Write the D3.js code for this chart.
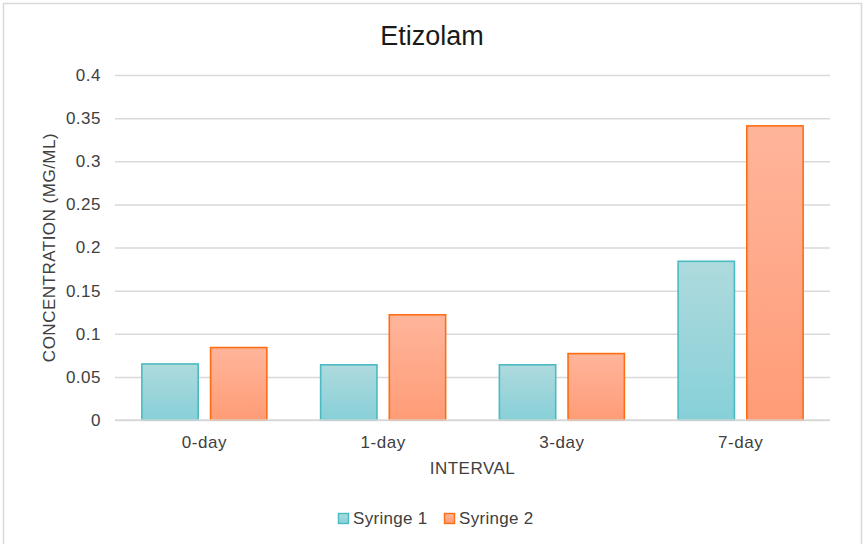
<!DOCTYPE html>
<html>
<head>
<meta charset="utf-8">
<script src="https://cdn.jsdelivr.net/npm/d3@7"></script>
<style>
  body { margin: 0; background: #fff; }
  svg { display: block; font-family: "Liberation Sans", Arial, sans-serif; }
</style>
</head>
<body>
<svg id="chart" width="866" height="544"></svg>
<script>
// Etizolam concentration per storage interval, two syringes
const categories = ["0-day", "1-day", "3-day", "7-day"];
const seriesNames = ["Syringe 1", "Syringe 2"];
const syringe1 = [0.065, 0.064, 0.064, 0.184];
const syringe2 = [0.084, 0.122, 0.077, 0.341];
const yTicks = [0, 0.05, 0.1, 0.15, 0.2, 0.25, 0.3, 0.35, 0.4];

const svg = d3.select("#chart");
const W = 866, H = 544;
const m = { left: 115, right: 36, top: 75, bottom: 124 };
const x0 = m.left, x1 = W - m.right, yTop = m.top, yBot = H - m.bottom;
const FONT = "Liberation Sans, Arial, sans-serif";
const TXT = "#404040";

const styles = [
  { grad: "g1", top: "#aedadd", bottom: "#87d0d8", stroke: "#4bbac3" },
  { grad: "g2", top: "#ffb59b", bottom: "#ff9c77", stroke: "#ff6d12" }
];

const defs = svg.append("defs");
styles.forEach(s => {
  const g = defs.append("linearGradient").attr("id", s.grad)
    .attr("x1", 0).attr("y1", 0).attr("x2", 0).attr("y2", 1);
  g.append("stop").attr("offset", "0%").attr("stop-color", s.top);
  g.append("stop").attr("offset", "100%").attr("stop-color", s.bottom);
});

// outer frame
svg.append("rect").attr("x", 3.5).attr("y", 3.5).attr("width", 858).attr("height", 560)
  .attr("fill", "#fff").attr("stroke", "#d9d9d9").attr("stroke-width", 1.5);

const y = d3.scaleLinear().domain([0, 0.4]).range([yBot, yTop]);
const x = d3.scaleBand().domain(categories).range([x0, x1]).paddingInner(0).paddingOuter(0);
const groupFrac = 125 / x.bandwidth();
const xs = d3.scaleBand().domain(seriesNames)
  .range([0, x.bandwidth() * groupFrac]).paddingInner(0.18).paddingOuter(0);

// gridlines + y labels via axis
const yAxis = d3.axisLeft(y).tickValues(yTicks).tickSize(-(x1 - x0)).tickPadding(14)
  .tickFormat(d => d === 0 ? "0" : String(+d.toFixed(2)));
const ya = svg.append("g").attr("transform", `translate(${x0},0)`).call(yAxis);
ya.select(".domain").remove();
ya.selectAll(".tick line").attr("stroke", "#d9d9d9").attr("stroke-width", 1.5);
ya.selectAll(".tick text").attr("fill", TXT).style("font-size", "17px")
  .style("font-family", FONT).style("letter-spacing", "0.5px");

// bars
const data = [syringe1, syringe2];
data.forEach((vals, si) => {
  const s = styles[si];
  svg.append("g").selectAll("rect").data(vals).join("rect")
    .attr("x", (d, i) => x(categories[i]) + (x.bandwidth() * (1 - groupFrac)) / 2 + xs(seriesNames[si]))
    .attr("y", d => y(d))
    .attr("width", xs.bandwidth())
    .attr("height", d => yBot - y(d))
    .attr("fill", `url(#${s.grad})`)
    .attr("stroke", s.stroke).attr("stroke-width", 1.6);
});

// baseline
svg.append("line").attr("x1", x0).attr("x2", x1).attr("y1", yBot).attr("y2", yBot)
  .attr("stroke", "#d9d9d9").attr("stroke-width", 1.5);

// x axis labels
const xAxis = d3.axisBottom(x).tickSize(0).tickPadding(16);
const xa = svg.append("g").attr("transform", `translate(0,${yBot})`).call(xAxis);
xa.select(".domain").remove();
xa.selectAll(".tick text").attr("fill", TXT).style("font-size", "17px")
  .style("font-family", FONT).style("letter-spacing", "0.5px");

// title
svg.append("text").attr("x", 432).attr("y", 45)
  .attr("text-anchor", "middle").attr("fill", "#1a1a1a").style("font-size", "27px")
  .text("Etizolam");

// axis titles
svg.append("text").attr("x", (x0 + x1) / 2).attr("y", 474)
  .attr("text-anchor", "middle").attr("fill", TXT).style("font-size", "17px")
  .style("letter-spacing", "0.5px")
  .text("INTERVAL");
svg.append("text").attr("transform", `translate(55,${(yTop + yBot) / 2}) rotate(-90)`)
  .attr("text-anchor", "middle").attr("fill", TXT).style("font-size", "17px")
  .style("letter-spacing", "0.5px")
  .text("CONCENTRATION (MG/ML)");

// legend
const legendX = [338, 444];
seriesNames.forEach((n, i) => {
  const g = svg.append("g").attr("transform", `translate(${legendX[i]},513)`);
  g.append("rect").attr("x", 0.5).attr("y", 0.5).attr("width", 10).attr("height", 10)
    .attr("fill", `url(#${styles[i].grad})`).attr("stroke", styles[i].stroke).attr("stroke-width", 1.4);
  g.append("text").attr("x", 15).attr("y", 10.5).attr("fill", TXT).style("font-size", "17px")
    .style("letter-spacing", "0.3px").text(n);
});
</script>
</body>
</html>
